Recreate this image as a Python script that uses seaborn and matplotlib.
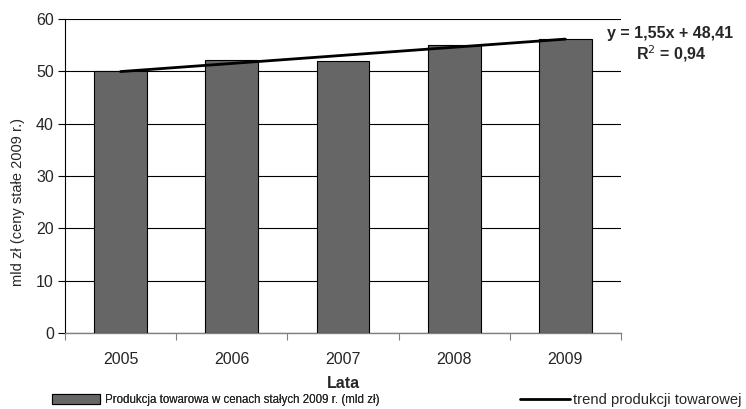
import numpy as np
import pandas as pd
import matplotlib.pyplot as plt
import seaborn as sns
from matplotlib.patches import Patch
from matplotlib.lines import Line2D

# -----------------------------
# Data
# -----------------------------
years = ["2005", "2006", "2007", "2008", "2009"]
production = [50.0, 52.1, 51.9, 55.1, 56.2]
trend_slope = 1.55
trend_intercept = 48.41
r_squared = 0.94

data = pd.DataFrame({"rok": years, "produkcja": production})

# -----------------------------
# Style
# -----------------------------
sns.set_style("white")
plt.rcParams["font.family"] = ["Liberation Sans", "DejaVu Sans"]

fig = plt.figure(figsize=(7.46, 4.09), dpi=100)
ax = fig.add_axes([0.0871, 0.1858, 0.7453, 0.7677])

sns.barplot(data=data, x="rok", y="produkcja", color="#666666",
            edgecolor="black", linewidth=0.8, width=0.475, saturation=1,
            ax=ax, zorder=3)

# trend line evaluated at x = 1..5
xs = np.arange(len(years))
trend = trend_slope * (xs + 1) + trend_intercept
ax.plot(xs, trend, color="black", linewidth=2, zorder=4)

# -----------------------------
# Axes
# -----------------------------
ax.set_ylim(0, 60)
ax.set_xlim(-0.5, len(years) - 0.5)
ax.set_yticks(range(0, 61, 10))
ax.yaxis.grid(True, color="black", linewidth=0.8, zorder=0)
ax.set_axisbelow(True)

for side in ["top", "right"]:
    ax.spines[side].set_visible(False)
ax.spines["left"].set_color("black")
ax.spines["left"].set_linewidth(0.8)
ax.spines["bottom"].set_color("#808080")
ax.spines["bottom"].set_linewidth(1.0)

ax.set_xticks(np.arange(-0.5, len(years), 1.0), minor=True)
ax.tick_params(axis="x", which="major", length=0, pad=14, labelsize=11.5)
ax.tick_params(axis="x", which="minor", length=5, width=0.8, color="#808080", direction="out")
ax.tick_params(axis="y", length=5, width=0.8, color="black", direction="out", labelsize=11.5, pad=3)
ax.tick_params(bottom=True, left=True, which="both")

ax.set_xlabel("Lata", fontsize=11.5, fontweight="bold", labelpad=6)
ax.set_ylabel("mld zł (ceny stałe 2009 r.)", fontsize=10.5)
ax.yaxis.set_label_coords(-0.072, 0.417)

# trend equation
eq_text = "y = " + f"{trend_slope:.2f}".replace(".", ",") + "x + " + f"{trend_intercept:.2f}".replace(".", ",")
fig.text(0.898, 0.919, eq_text, ha="center", va="center", fontsize=11.5, fontweight="bold")
fig.text(0.900, 0.868, "R$^{2}$ = " + f"{r_squared:.2f}".replace(".", ","),
         ha="center", va="center", fontsize=11.5, fontweight="bold")

# -----------------------------
# Legend (two separate entries, as in the original)
# -----------------------------
leg1 = fig.legend([Patch(facecolor="#666666", edgecolor="black", linewidth=0.8)],
                  ["Produkcja towarowa w cenach stałych 2009 r. (mld zł)"],
                  loc="center left", bbox_to_anchor=(52 / 746, 1 - 400 / 409),
                  frameon=False, fontsize=8.3,
                  handlelength=4.2, handleheight=0.88, handletextpad=0.42,
                  borderpad=0, borderaxespad=0)
leg2 = fig.legend([Line2D([0], [0], color="black", linewidth=2)],
                  ["trend produkcji towarowej"],
                  loc="center left", bbox_to_anchor=(520 / 746, 1 - 400 / 409),
                  frameon=False, fontsize=10.6,
                  handlelength=3.4, handletextpad=0.18,
                  borderpad=0, borderaxespad=0)
fig.add_artist(leg1)

fig.savefig("out.png", dpi=100)
plt.close()
